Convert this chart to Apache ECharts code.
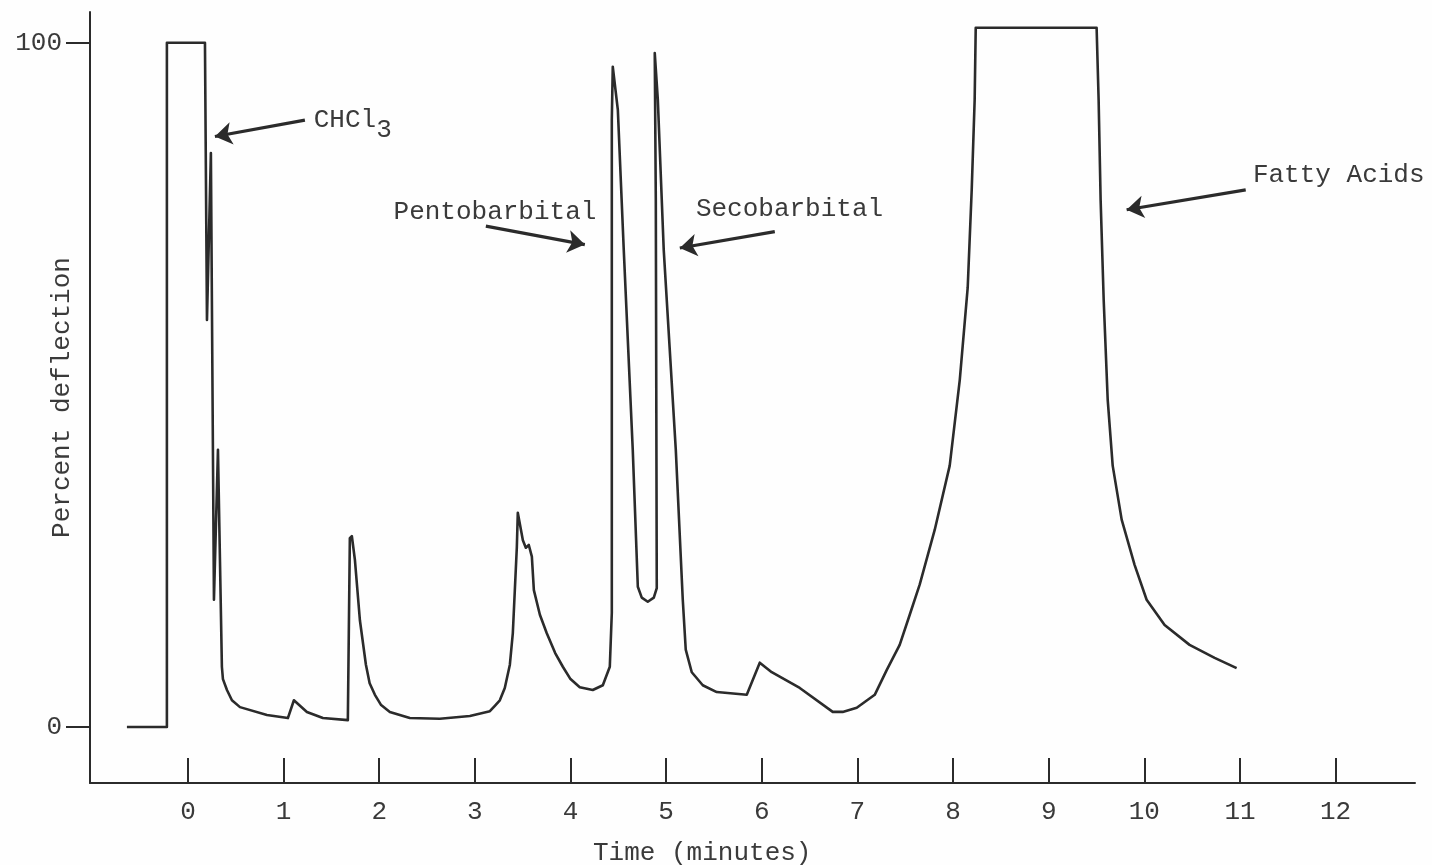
<!DOCTYPE html>
<html>
<head>
<meta charset="utf-8">
<script src="https://cdn.jsdelivr.net/npm/echarts@6/dist/echarts.min.js"></script>
<style>
html,body{margin:0;padding:0;background:#fff;}
#c{width:1432px;height:865px;}
</style>
</head>
<body>
<div id="c"></div>
<script>
// Time in minutes and percent deflection
const time = [-0.638,-0.220,-0.220,0.178,0.199,0.240,0.272,0.314,0.355,0.366,0.408,0.460,0.544,0.826,1.045,1.108,1.244,1.411,1.672,1.693,1.714,1.746,1.798,1.861,1.900,1.955,2.020,2.111,2.320,2.634,2.948,3.157,3.209,3.261,3.313,3.366,3.397,3.439,3.449,3.502,3.533,3.564,3.596,3.617,3.680,3.752,3.840,3.920,4.000,4.097,4.233,4.338,4.411,4.432,4.432,4.442,4.495,4.557,4.651,4.704,4.745,4.808,4.871,4.902,4.892,4.881,4.913,4.975,5.101,5.174,5.205,5.268,5.383,5.529,5.843,5.979,6.104,6.397,6.742,6.846,6.993,7.181,7.306,7.442,7.547,7.651,7.808,7.965,8.070,8.153,8.195,8.226,8.237,9.501,9.522,9.543,9.575,9.617,9.669,9.763,9.898,10.024,10.212,10.473,10.735,10.965];
const deflection = [0,0,100,100,59.5,83.9,18.6,40.5,8.8,7.0,5.4,3.9,2.9,1.75,1.3,3.9,2.2,1.3,1.0,27.6,27.9,24.4,15.6,9.1,6.4,4.7,3.2,2.2,1.3,1.2,1.6,2.3,3.1,3.9,5.7,9.1,13.7,26.3,31.3,27.3,26.2,26.6,24.9,20.0,16.4,13.7,10.8,8.8,7.0,5.8,5.4,6.1,8.8,16.7,88.7,96.5,90.2,69.7,40.5,20.5,18.9,18.3,18.9,20.3,77.0,98.5,91.7,69.7,40.5,18.6,11.3,8.0,6.1,5.1,4.7,9.4,8.0,5.7,2.2,2.2,2.8,4.7,8.3,12.0,16.4,20.8,28.8,38.2,50.7,64.2,78.5,91.7,102.2,102.2,91.7,77.0,62.4,47.8,38.2,30.3,23.7,18.6,14.9,12.0,10.1,8.6];

const xTicks = [0,1,2,3,4,5,6,7,8,9,10,11,12];
const yTicks = [0,100];

// Peak annotations: label anchor and arrow start/end (time, deflection)
const peakNames = ['CHCl3','Pentobarbital','Secobarbital','Fatty Acids'];
const labelAt = [[1.31,88.7],[3.21,75.3],[6.29,75.7],[11.13,80.6]];
const arrowFrom = [[1.223,88.7],[3.115,73.2],[6.136,72.4],[11.06,78.5]];
const arrowTo = [[0.282,86.3],[4.15,70.5],[5.143,70.0],[9.815,75.6]];

const FONT = '"Liberation Mono", "DejaVu Sans Mono", monospace';
const INK = '#2b2b2b';
const TXT = '#3a3a3a';

const data = time.map((t,i)=>[t,deflection[i]]);

const chart = echarts.init(document.getElementById('c'), null, {renderer:'canvas'});
chart.setOption({
  animation:false,
  backgroundColor:'#fefefe',
  grid:{left:90,right:17,top:12,bottom:82,containLabel:false,outerBoundsMode:'none'},
  title:{text:'Time (minutes)',left:593,top:840,padding:0,textStyle:{fontFamily:FONT,fontSize:26,fontWeight:'normal',color:TXT}},
  xAxis:{
    type:'value',min:-1.024,max:12.83,
    axisLine:{show:true,onZero:false,lineStyle:{color:INK,width:2}},
    axisTick:{show:true,inside:true,length:25,customValues:xTicks,lineStyle:{color:INK,width:2}},
    axisLabel:{show:true,customValues:xTicks,margin:16,fontFamily:FONT,fontSize:26,color:TXT},
    splitLine:{show:false}
  },
  yAxis:{
    type:'value',min:-8.19,max:104.5,
    name:'Percent deflection',nameLocation:'middle',nameGap:15,nameMoveOverlap:false,
    nameTextStyle:{fontFamily:FONT,fontSize:26,color:TXT},
    axisLine:{show:true,onZero:false,lineStyle:{color:INK,width:2}},
    axisTick:{show:true,inside:false,length:24,customValues:yTicks,lineStyle:{color:INK,width:2}},
    axisLabel:{show:true,customValues:yTicks,margin:28,fontFamily:FONT,fontSize:26,color:TXT},
    splitLine:{show:false}
  },
  series:[{
    type:'line',data:data,showSymbol:false,smooth:false,
    lineStyle:{color:INK,width:2.6,join:'round'},
    markLine:{
      silent:true,symbol:['none','arrow'],symbolSize:17,
      lineStyle:{color:INK,width:3.2,type:'solid'},
      label:{show:false},
      data:arrowFrom.map((a,i)=>[{coord:a},{coord:arrowTo[i]}])
    },
    markPoint:{
      silent:true,symbol:'circle',symbolSize:1,itemStyle:{color:'rgba(0,0,0,0)'},
      data:peakNames.map((n,i)=>({
        coord:labelAt[i],value:n,
        label:{show:true,
          position:(i===1||i===2)?'inside':'right',distance:0,
          fontFamily:FONT,fontSize:26,color:TXT,
          formatter:n==='CHCl3'?'{a|CHCl}{s|3}':n,
          rich:{a:{fontFamily:FONT,fontSize:26,color:TXT},s:{fontFamily:FONT,fontSize:26,color:TXT,padding:[20,0,0,0]}}
        }
      }))
    }
  }]
});
</script>
</body>
</html>
